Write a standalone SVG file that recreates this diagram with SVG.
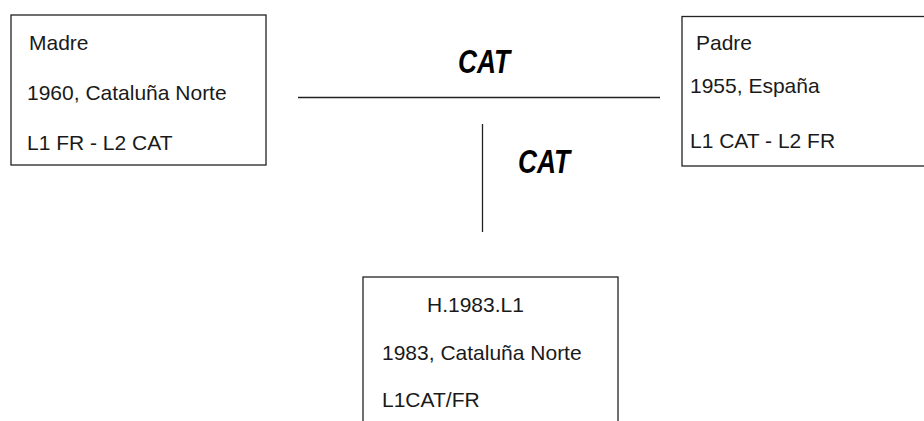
<svg xmlns="http://www.w3.org/2000/svg" width="924" height="421" viewBox="0 0 924 421">
<style>
.box{fill:#fff;stroke:#222;stroke-width:1.3}
.t{font-family:"Liberation Sans",Arial,sans-serif;font-size:21px;fill:#1a1a1a}
.cat{font-family:"Liberation Sans Narrow","Liberation Sans",sans-serif;font-weight:bold;font-style:italic;font-size:33px;fill:#000}
.ln{stroke:#222;stroke-width:1.3;fill:none}
</style>
<rect width="924" height="421" fill="#fff"/>
<g id="connectors">
<line class="ln" x1="298" y1="97.5" x2="660" y2="97.5"/>
<line class="ln" x1="482.5" y1="124" x2="482.5" y2="232"/>
<text class="cat" x="458" y="73" textLength="52" lengthAdjust="spacingAndGlyphs">CAT</text>
<text class="cat" x="518" y="173" textLength="52" lengthAdjust="spacingAndGlyphs">CAT</text>
</g>
<g id="madre">
<rect class="box" x="11" y="15" width="255" height="150"/>
<text class="t" x="29" y="50">Madre</text>
<text class="t" x="27" y="100">1960, Cataluña Norte</text>
<text class="t" x="27" y="150">L1 FR - L2 CAT</text>
</g>
<g id="padre">
<rect class="box" x="682" y="16.5" width="260" height="149.5"/>
<text class="t" x="696" y="50">Padre</text>
<text class="t" x="690" y="93">1955, España</text>
<text class="t" x="690" y="148">L1 CAT - L2 FR</text>
</g>
<g id="hijo">
<rect class="box" x="363" y="277" width="255" height="160"/>
<text class="t" x="427" y="312">H.1983.L1</text>
<text class="t" x="382" y="360">1983, Cataluña Norte</text>
<text class="t" x="382" y="407">L1CAT/FR</text>
</g>
</svg>
